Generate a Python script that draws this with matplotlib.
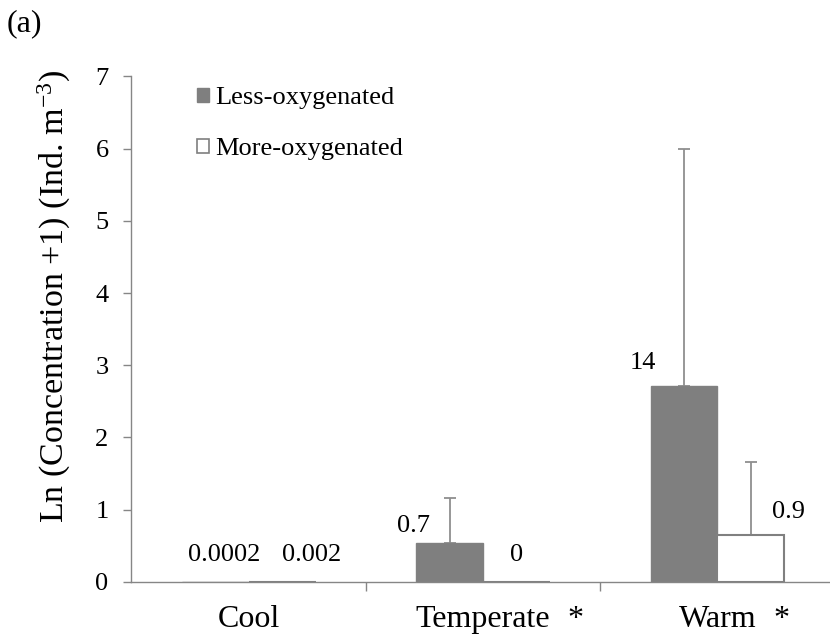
import numpy as np
import matplotlib
matplotlib.use("Agg")
import matplotlib.pyplot as plt
from matplotlib.patches import Patch

plt.rcParams["font.family"] = ["Liberation Serif", "DejaVu Serif"]
plt.rcParams["mathtext.fontset"] = "custom"
plt.rcParams["mathtext.rm"] = "Liberation Serif"
plt.rcParams["mathtext.it"] = "Liberation Serif:italic"

# Water-mass categories and significance flags
categories = ["Cool", "Temperate", "Warm"]
significant = [False, True, True]

# Mean concentrations (Ind. m^-3) shown as bar labels
less_conc = [0.0002, 0.7, 14]
more_conc = [0.002, 0, 0.9]
less_text = ["0.0002", "0.7", "14"]
more_text = ["0.002", "0", "0.9"]

# Upper error (ln units)
less_err = [0.0, 0.63, 3.29]
more_err = [0.0, 0.0, 1.01]

series_names = ["Less-oxygenated", "More-oxygenated"]

less_h = np.log(np.array(less_conc) + 1)
more_h = np.log(np.array(more_conc) + 1)

GRAY = "#7f7f7f"
EDGE = "#808080"
ERR = "#8f8f8f"
AXC = "#868686"

fig = plt.figure(figsize=(8.3, 6.4), dpi=100)
ax = fig.add_axes([0.1584, 0.0911, 0.8416, 0.7894])

x = np.arange(len(categories))
w = 0.2857
xl = x - w / 2
xm = x + w / 2

ax.bar(xl, less_h, width=w, color=GRAY, edgecolor=EDGE, linewidth=1.0, zorder=2)
ax.bar(xm, more_h, width=w, color="white", edgecolor=EDGE, linewidth=1.5, zorder=2)

for xs, hs, es in ((xl, less_h, less_err), (xm, more_h, more_err)):
    for xi, hi, ei in zip(xs, hs, es):
        if ei > 0:
            ax.errorbar(xi, hi, yerr=[[0], [ei]], fmt="none", ecolor=ERR,
                        elinewidth=1.3, capsize=4.5, capthick=1.3, zorder=1)

# Value label offsets (dx, dy) relative to each bar centre/top
less_off = [(0.04, 0.37), (-0.154, 0.24), (-0.174, 0.32)]
more_off = [(0.125, 0.37), (0.0, 0.37), (0.159, 0.32)]
for xs, hs, txts, offs in ((xl, less_h, less_text, less_off),
                           (xm, more_h, more_text, more_off)):
    for xi, hi, t, (dx, dy) in zip(xs, hs, txts, offs):
        ax.text(xi + dx, hi + dy, t, ha="center", va="center", fontsize=19,
                color="black")

ax.set_xlim(-0.5, 2.48)
ax.set_ylim(0, 7)
ax.set_yticks(range(0, 8))
ax.tick_params(axis="y", direction="out", length=6, width=1, color=AXC,
               labelsize=19, pad=10.5)

# category separators as ticks, names centred under each group
ax.set_xticks(x[:-1] + 0.5)
ax.set_xticklabels([])
ax.tick_params(axis="x", which="major", direction="out", length=6.5, width=1,
               color=AXC)
ax.set_xticks(x, minor=True)
ax.set_xticklabels(categories, minor=True, fontsize=23)
ax.tick_params(axis="x", which="minor", length=0, pad=17)

# significance markers to the right of each category name
star_dx = [0.0, 0.392, 0.273]
for xi, sig, dx in zip(x, significant, star_dx):
    if sig:
        ax.annotate("*", xy=(xi + dx, 0), xycoords=ax.get_xaxis_transform(),
                    xytext=(0, -17), textcoords="offset points",
                    ha="center", va="top", fontsize=23)

ax.spines["top"].set_visible(False)
ax.spines["right"].set_visible(False)
for s in ("left", "bottom"):
    ax.spines[s].set_color(AXC)
    ax.spines[s].set_linewidth(1.0)

ax.set_ylabel(r"Ln (Concentration +1) (Ind. m$^{\mathregular{-3}}$)",
              fontsize=24.5)
ax.yaxis.set_label_coords(-0.083, 0.565)

handles = [Patch(facecolor=GRAY, edgecolor=GRAY),
           Patch(facecolor="white", edgecolor=GRAY, linewidth=1.2)]
ax.legend(handles, series_names, loc="upper left",
          bbox_to_anchor=(197 / 830, 1 - 87 / 640), bbox_transform=fig.transFigure,
          frameon=False, fontsize=19, handlelength=0.45, handleheight=0.45,
          handletextpad=0.25, labelspacing=1.1, borderpad=0, borderaxespad=0)

fig.text(7 / 830, 1 - 24 / 640, "(a)", fontsize=23, va="center", ha="left")

fig.savefig("out.png", dpi=100)
